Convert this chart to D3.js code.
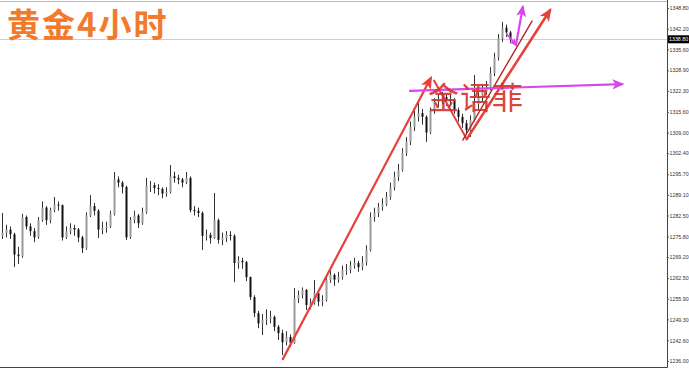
<!DOCTYPE html>
<html lang="zh">
<head>
<meta charset="UTF-8">
<title>黄金4小时</title>
<script src="https://cdn.jsdelivr.net/npm/d3@7"></script>
<style>
  body { margin: 0; background: #fff; }
  svg { display: block; }
</style>
</head>
<body>
<script>
// 4h gold candles (bar index 0..127)
const open = [1276.0,1277.0,1278.0,1276.5,1270.0,1269.5,1282.0,1279.0,1277.5,1275.5,
  1281.0,1285.0,1281.0,1284.2,1286.0,1285.8,1275.5,1277.5,1278.5,1278.0,
  1275.5,1272.0,1282.5,1285.5,1284.0,1278.0,1278.5,1279.0,1283.0,1294.0,
  1293.0,1291.6,1275.5,1281.0,1282.5,1280.0,1283.5,1292.0,1292.2,1291.3,
  1291.0,1289.5,1290.0,1295.0,1294.5,1294.0,1293.0,1294.5,1284.2,1284.0,
  1283.3,1276.0,1276.3,1275.3,1281.0,1274.7,1275.3,1276.3,1276.0,1267.3,
  1268.0,1267.6,1262.8,1256.4,1251.3,1248.0,1249.1,1249.5,1250.1,1246.9,
  1244.9,1242.0,1243.7,1241.8,1256.0,1257.1,1258.7,1253.9,1254.5,1257.7,
  1255.0,1255.5,1261.9,1263.5,1262.0,1262.8,1265.0,1265.1,1266.5,1267.3,
  1266.0,1267.5,1271.5,1282.0,1283.3,1285.2,1286.0,1288.4,1291.5,1294.8,
  1297.0,1302.5,1306.0,1310.8,1314.0,1315.2,1314.0,1309.0,1316.0,1318.8,
  1319.4,1320.3,1319.5,1319.4,1316.2,1314.0,1312.0,1309.8,1313.0,1318.0,
  1320.3,1322.0,1323.5,1328.0,1333.0,1339.0,1342.5,1341.0];
const high = [1283.3,1279.5,1279.0,1277.0,1272.5,1283.0,1282.5,1280.0,1278.5,1282.0,
  1287.0,1285.5,1285.0,1288.4,1287.0,1286.0,1279.0,1280.0,1279.5,1278.5,
  1276.0,1283.5,1289.0,1286.5,1284.5,1280.5,1280.5,1284.0,1296.4,1295.0,
  1293.5,1292.0,1282.0,1284.0,1283.0,1285.0,1294.5,1293.5,1293.0,1292.5,
  1291.5,1291.5,1298.6,1296.5,1295.5,1294.5,1296.4,1295.0,1285.5,1285.0,
  1283.8,1278.0,1277.0,1289.7,1281.5,1277.0,1277.5,1277.5,1276.5,1269.5,
  1269.0,1268.0,1263.0,1257.0,1252.0,1251.0,1252.5,1252.0,1250.5,1247.5,
  1246.0,1245.5,1244.5,1259.3,1258.5,1259.5,1259.0,1256.0,1261.9,1258.0,
  1257.0,1263.0,1265.0,1264.0,1264.5,1266.5,1267.0,1268.0,1269.0,1268.0,
  1269.5,1273.0,1283.5,1285.0,1286.5,1288.0,1290.0,1293.0,1296.5,1299.0,
  1304.0,1307.5,1312.5,1316.0,1318.4,1316.5,1314.5,1317.0,1320.0,1321.0,
  1322.0,1321.0,1321.0,1320.0,1317.0,1315.0,1313.0,1314.5,1327.4,1322.0,
  1324.0,1325.5,1329.9,1334.5,1340.5,1344.3,1343.5,1341.5];
const low = [1275.0,1275.5,1275.0,1266.0,1267.0,1269.0,1278.0,1276.0,1274.0,1275.0,
  1280.5,1279.5,1280.0,1283.5,1284.0,1274.5,1275.0,1276.5,1276.0,1274.0,
  1270.5,1271.5,1282.0,1282.5,1275.3,1276.5,1277.0,1278.5,1282.5,1291.5,
  1289.5,1274.7,1275.0,1280.0,1278.5,1279.5,1283.0,1290.0,1289.5,1289.0,
  1288.0,1288.5,1289.5,1293.0,1292.5,1291.5,1292.5,1283.5,1282.5,1282.0,
  1271.5,1274.5,1273.5,1275.0,1273.5,1273.0,1274.0,1274.5,1261.2,1265.5,
  1265.5,1261.5,1255.5,1250.0,1246.5,1244.3,1247.5,1248.0,1245.5,1242.7,
  1237.9,1241.0,1240.5,1241.5,1254.5,1256.0,1252.3,1252.5,1254.0,1253.5,
  1253.5,1255.0,1261.0,1260.0,1261.0,1262.0,1263.5,1264.0,1265.5,1264.5,
  1265.0,1266.5,1271.0,1280.5,1282.0,1284.0,1285.5,1287.5,1290.5,1293.5,
  1296.5,1301.5,1305.0,1309.5,1312.5,1311.5,1306.0,1308.5,1315.0,1317.0,
  1318.0,1317.5,1317.5,1315.0,1312.5,1310.5,1308.5,1307.6,1312.5,1316.5,
  1319.0,1321.0,1322.5,1327.0,1332.0,1338.0,1339.5,1337.5];
const close = [1277.0,1278.0,1276.5,1270.0,1269.5,1282.0,1279.0,1277.5,1275.5,1281.0,
  1285.0,1281.0,1284.2,1286.0,1285.8,1275.5,1277.5,1278.5,1278.0,1275.5,
  1272.0,1282.5,1285.5,1284.0,1278.0,1278.5,1279.0,1283.0,1294.0,1293.0,
  1291.6,1275.5,1281.0,1282.5,1280.0,1283.5,1292.0,1292.2,1291.3,1291.0,
  1289.5,1290.0,1295.0,1294.5,1294.0,1293.0,1294.5,1284.2,1284.0,1283.3,
  1276.0,1276.3,1275.3,1281.0,1274.7,1275.3,1276.3,1276.0,1267.3,1268.0,
  1267.6,1262.8,1256.4,1251.3,1248.0,1249.1,1249.5,1250.1,1246.9,1244.9,
  1242.0,1243.7,1241.8,1256.0,1257.1,1258.7,1253.9,1254.5,1257.7,1255.0,
  1255.5,1261.9,1263.5,1262.0,1262.8,1265.0,1265.1,1266.5,1267.3,1266.0,
  1267.5,1271.5,1282.0,1283.3,1285.2,1286.0,1288.4,1291.5,1294.8,1297.0,
  1302.5,1306.0,1310.8,1314.0,1315.2,1314.0,1309.0,1316.0,1318.8,1319.4,
  1320.3,1319.5,1319.4,1316.2,1314.0,1312.0,1309.8,1313.0,1318.0,1320.3,
  1322.0,1323.5,1328.0,1333.0,1339.0,1342.5,1341.0,1338.8];

const priceTicks = [1348.80,1342.20,1335.60,1328.90,1322.30,1315.60,1309.00,1302.40,1295.70,
  1289.10,1282.50,1275.80,1269.20,1262.50,1255.90,1249.30,1242.60,1236.00];
const lastPrice = 1338.80;

// hand-drawn analysis lines, as [bar index, price]
const arrowUp1 = [[70.2, 1236.6], [107.2, 1326.4]];
const dropLeg = [[108.0, 1325.6], [116.2, 1306.9]];
const arrowUp2 = [[116.2, 1306.9], [137.0, 1348.1]];
const channelLine = [[115.2, 1306.6], [132.5, 1344.6]];
const neckArrow = [[102.0, 1322.3], [155.0, 1324.5]];
const pullbackArrow = [[126.2, 1340.5], [128.5, 1337.0]];
const finalArrow = [[128.5, 1337.0], [130.2, 1349.1]];
const markLabel = { text: "金语菲", at: [118.5, 1320.2] };
const title = "黄金4小时";

const width = 689, height = 369;
const plotRight = 667, plotBottom = 367;

const svg = d3.select("body").append("svg")
    .attr("width", width)
    .attr("height", height)
    .style("background", "#fff");

const x = d3.scaleLinear().domain([0, 127]).range([2, 510]);
const y = d3.scaleLinear().domain([1236, 1348.8]).range([361, 8]);

// frame
svg.append("line").attr("x1", 0).attr("x2", plotRight).attr("y1", 1.5).attr("y2", 1.5)
    .attr("stroke", "#b8b8b8");
svg.append("line").attr("x1", 0).attr("x2", plotRight + 0.5)
    .attr("y1", plotBottom + 0.5).attr("y2", plotBottom + 0.5).attr("stroke", "#444");
svg.append("line").attr("x1", plotRight + 0.5).attr("x2", plotRight + 0.5)
    .attr("y1", 0).attr("y2", plotBottom + 0.5).attr("stroke", "#444");

// current price line
svg.append("line")
    .attr("x1", 0).attr("x2", plotRight)
    .attr("y1", Math.round(y(lastPrice)) + 0.5).attr("y2", Math.round(y(lastPrice)) + 0.5)
    .attr("stroke", "#cfcfcf");

// candles
const bars = d3.range(close.length);
const g = svg.append("g");
g.selectAll("line.wick").data(bars).join("line")
    .attr("class", "wick")
    .attr("x1", i => Math.round(x(i)) + 0.5)
    .attr("x2", i => Math.round(x(i)) + 0.5)
    .attr("y1", i => y(high[i]))
    .attr("y2", i => y(low[i]))
    .attr("stroke", "#333")
    .attr("stroke-width", 1);
g.selectAll("rect.body").data(bars).join("rect")
    .attr("class", "body")
    .attr("x", i => Math.round(x(i)) - 0.5)
    .attr("width", 2)
    .attr("y", i => y(Math.max(open[i], close[i])))
    .attr("height", i => Math.max(1, Math.abs(y(open[i]) - y(close[i]))))
    .attr("fill", i => close[i] >= open[i] ? "#9a9a9a" : "#111");

// price axis
const axis = svg.append("g")
    .attr("transform", `translate(${plotRight + 0.5},0)`)
    .call(d3.axisRight(y).tickValues(priceTicks).tickFormat(d3.format(".2f"))
        .tickSize(1.5).tickPadding(0.5));
axis.select(".domain").remove();
axis.selectAll("text")
    .attr("font-family", "Liberation Sans, Arial, sans-serif")
    .attr("font-size", 5.3)
    .attr("fill", "#333");
axis.selectAll("line").attr("stroke", "#555");

const tag = svg.append("g").attr("transform", `translate(${plotRight + 1},${y(lastPrice)})`);
tag.append("rect").attr("x", 0).attr("y", -4).attr("width", 21).attr("height", 8).attr("fill", "#000");
tag.append("text").attr("x", 1).attr("y", 0).attr("dy", "0.34em")
    .attr("font-family", "Liberation Sans, Arial, sans-serif")
    .attr("font-size", 5.3)
    .attr("fill", "#fff")
    .text(d3.format(".2f")(lastPrice));

// arrow heads
const defs = svg.append("defs");
function head(id, color, size) {
  defs.append("marker")
      .attr("id", id)
      .attr("viewBox", "0 0 10 10")
      .attr("refX", 8).attr("refY", 5)
      .attr("markerUnits", "userSpaceOnUse")
      .attr("markerWidth", size).attr("markerHeight", size)
      .attr("orient", "auto")
    .append("path")
      .attr("d", "M0,0.8L10,5L0,9.2L2.5,5Z")
      .attr("fill", color);
}
head("redHead", "#e8403a", 13);
head("pinkHead", "#d946ef", 12);
head("pinkSmall", "#d946ef", 8);

const line = d3.line().x(d => x(d[0])).y(d => y(d[1]));
const ann = svg.append("g").attr("fill", "none").attr("stroke-linecap", "round");

ann.append("path").attr("d", line(arrowUp1))
    .attr("stroke", "#e8403a").attr("stroke-width", 2.2).attr("marker-end", "url(#redHead)");
ann.append("path").attr("d", line(dropLeg))
    .attr("stroke", "#e04038").attr("stroke-width", 2);
ann.append("path").attr("d", line(channelLine))
    .attr("stroke", "#b42424").attr("stroke-width", 1.4);
ann.append("path").attr("d", line(arrowUp2))
    .attr("stroke", "#e8403a").attr("stroke-width", 2.6).attr("marker-end", "url(#redHead)");
ann.append("path").attr("d", line(neckArrow))
    .attr("stroke", "#d946ef").attr("stroke-width", 2.2).attr("marker-end", "url(#pinkHead)");
ann.append("path").attr("d", line(pullbackArrow))
    .attr("stroke", "#d946ef").attr("stroke-width", 1.8).attr("marker-end", "url(#pinkSmall)");
ann.append("path").attr("d", line(finalArrow))
    .attr("stroke", "#d946ef").attr("stroke-width", 2.2).attr("marker-end", "url(#pinkHead)");

// signature text on the chart
svg.append("text")
    .attr("x", x(markLabel.at[0]))
    .attr("y", y(markLabel.at[1]))
    .attr("dy", "0.36em")
    .attr("text-anchor", "middle")
    .attr("font-family", "Noto Sans CJK SC, sans-serif")
    .attr("font-size", 31)
    .attr("letter-spacing", 1)
    .attr("fill", "#d6322c")
    .attr("fill-opacity", 0.92)
    .text(markLabel.text);

// title
svg.append("text")
    .attr("x", 7).attr("y", 37)
    .attr("font-family", "Noto Sans CJK SC, sans-serif")
    .attr("font-weight", "bold")
    .attr("font-size", 33)
    .attr("letter-spacing", 2)
    .attr("fill", "#f27a2c")
    .text(title);
</script>
</body>
</html>
